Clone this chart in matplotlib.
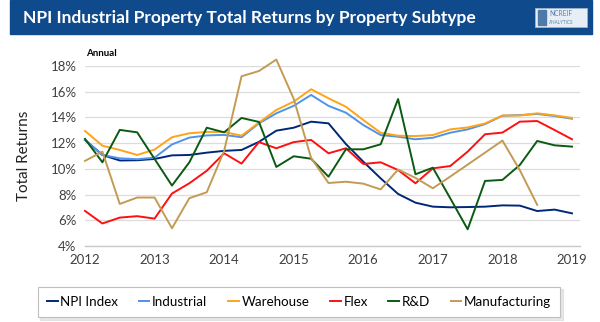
import numpy as np
import matplotlib
matplotlib.use("Agg")
import matplotlib.pyplot as plt
from matplotlib.patches import Rectangle

plt.rcParams['font.family'] = ['Lato', 'DejaVu Sans']

# quarterly trailing annual total returns, 2012Q1 - 2019Q1 (%)
npi_index = [12.25, 11.08, 10.65, 10.67, 10.77, 11.05, 11.08, 11.26, 11.40, 11.47,
             12.10, 12.97, 13.20, 13.67, 13.54, 11.93, 10.56, 9.26, 8.05, 7.37,
             7.06, 7.01, 7.03, 7.06, 7.16, 7.14, 6.72, 6.83, 6.54]
industrial = [12.25, 11.08, 10.82, 10.75, 10.87, 11.90, 12.43, 12.60, 12.64, 12.46,
              13.54, 14.32, 14.90, 15.75, 14.90, 14.37, 13.41, 12.63, 12.50, 12.30,
              12.42, 12.81, 13.07, 13.48, 14.13, 14.18, 14.27, 14.11, 13.90]
warehouse = [12.95, 11.80, 11.47, 11.08, 11.50, 12.46, 12.77, 12.87, 12.87, 12.58,
             13.60, 14.58, 15.23, 16.19, 15.49, 14.83, 13.80, 12.81, 12.58, 12.55,
             12.63, 13.07, 13.22, 13.53, 14.15, 14.15, 14.32, 14.16, 13.96]
flex = [6.73, 5.75, 6.21, 6.32, 6.13, 8.08, 8.88, 9.85, 11.21, 10.41,
        12.08, 11.60, 12.08, 12.25, 11.21, 11.60, 10.38, 10.51, 9.91, 8.88,
        10.04, 10.22, 11.34, 12.69, 12.82, 13.67, 13.72, 13.02, 12.30]
rnd = [12.33, 10.51, 13.03, 12.84, 10.77, 8.70, 10.51, 13.20, 12.84, 13.96,
       13.65, 10.15, 10.98, 10.79, 9.39, 11.52, 11.52, 11.91, 15.43, 9.58,
       10.09, 7.71, 5.30, 9.06, 9.14, 10.30, 12.17, 11.83, 11.73]
manufacturing = [10.62, 11.34, 7.27, 7.77, 7.77, 5.38, 7.72, 8.18, 11.40, 17.20,
                 17.61, 18.50, 15.45, 10.85, 8.90, 9.00, 8.85, 8.40, 9.95, 9.30,
                 8.49, 9.40, 10.33, 11.26, 12.20, 9.90, 7.20]

series = [
    ("NPI Index", npi_index, "#002878"),
    ("Industrial", industrial, "#4F94E8"),
    ("Warehouse", warehouse, "#FFA319"),
    ("Flex", flex, "#FF1010"),
    ("R&D", rnd, "#0B5A12"),
    ("Manufacturing", manufacturing, "#C29B55"),
]
year_ticks = [2012, 2013, 2014, 2015, 2016, 2017, 2018, 2019]
pct_ticks = [4, 6, 8, 10, 12, 14, 16, 18]

fig = plt.figure(figsize=(6, 3.22), dpi=100)
W, H = 600, 322

# header bar
fig.patches.append(Rectangle((10 / W, 1 - 34 / H), 582 / W, 34 / H,
                             transform=fig.transFigure, color="#0F4A8C", zorder=0))
fig.text(23 / W, 1 - 18 / H, "NPI Industrial Property Total Returns by Property Subtype",
         color="white", fontsize=12.5, fontweight="bold", va="center", ha="left")
# small logo box
fig.patches.append(Rectangle((535 / W, 1 - 27 / H), 52 / W, 19 / H,
                             transform=fig.transFigure, facecolor="#E8EEF5",
                             edgecolor="#9FB3CC", lw=0.6, zorder=1))
fig.patches.append(Rectangle((538 / W, 1 - 25 / H), 8 / W, 15 / H,
                             transform=fig.transFigure, color="#4E79A8", zorder=2))
fig.text(549 / W, 1 - 13 / H, "NCREIF", color="#5C7FA8", fontsize=4.8, va="center")
fig.text(549 / W, 1 - 22 / H, "ANALYTICS", color="#5C7FA8", fontsize=3.3, va="center")

ax = fig.add_axes([85 / W, 76 / H, 495 / W, 180 / H])
quarters = 2012 + np.arange(len(npi_index)) * 0.25
for name, vals, color in series:
    # peaks above 18% run past the top gridline, so no clipping
    ax.plot(quarters[:len(vals)], vals, color=color, lw=1.4, label=name, clip_on=False)

ax.set_xlim(2012, 2019.115)
ax.set_ylim(4, 18)
ax.set_xticks(year_ticks)
ax.set_yticks(pct_ticks)
ax.set_yticklabels([f"{v}%" for v in pct_ticks])
ax.tick_params(length=0, labelsize=9.5, labelcolor="#404040", pad=6)
ax.grid(axis="y", color="#DCDCDC", lw=0.9)
ax.set_axisbelow(True)
for s in ["top", "right", "left"]:
    ax.spines[s].set_visible(False)
ax.spines["bottom"].set_color("#C8C8C8")
ax.spines["bottom"].set_linewidth(1.0)
ax.spines["bottom"].set_zorder(0)

fig.text(86 / W, 1 - 53 / H, "Annual", fontsize=7, fontweight="bold", va="center")
fig.text(24 / W, 166 / H, "Total Returns", fontsize=11, rotation=90,
         va="center", ha="center", color="#222222")

leg = fig.legend(loc="center", bbox_to_anchor=(299 / W, 1 - 302 / H), ncol=6,
                 fontsize=9.6, handlelength=0.8, handletextpad=0.2,
                 columnspacing=1.55, frameon=True, fancybox=False,
                 edgecolor="#BFBFBF", borderpad=0.7,
                 shadow={"color": "#D0D0D0", "ox": 2, "oy": -2})
leg.get_frame().set_linewidth(0.8)

fig.savefig("out.png", dpi=100)
